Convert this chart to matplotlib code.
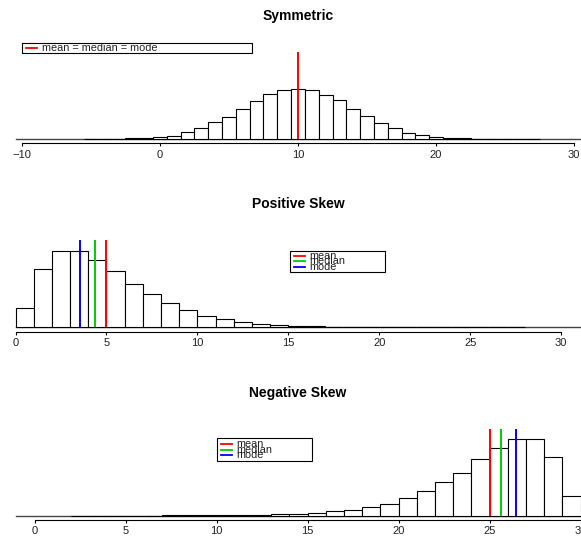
import matplotlib
matplotlib.use('Agg')
import matplotlib.pyplot as plt
from matplotlib.patches import Rectangle

plt.rcParams['font.family'] = ['Liberation Sans', 'DejaVu Sans']

# histogram densities, one value per unit-wide bin (left edges listed)
sym_left = [x - 0.5 for x in range(-5, 28)]
sym_density = [0.0002, 0.0004, 0.0007, 0.0013, 0.0026, 0.0046, 0.0066, 0.014,
               0.022, 0.033, 0.044, 0.060, 0.074, 0.089, 0.097, 0.099, 0.096,
               0.087, 0.077, 0.060, 0.046, 0.032, 0.022, 0.012, 0.0079, 0.0046,
               0.002, 0.0013, 0.0007, 0.0004, 0.0002, 0.0002, 0.0001]

pos_left = list(range(0, 28))
pos_density = [0.038, 0.114, 0.151, 0.151, 0.133, 0.111, 0.085, 0.065, 0.047,
               0.035, 0.023, 0.017, 0.011, 0.0073, 0.0053, 0.0033, 0.002,
               0.0014, 0.001, 0.0008, 0.0006, 0.0005, 0.0004, 0.0003, 0.0003,
               0.0002, 0.0002, 0.0001]

neg_left = list(range(2, 30))
neg_density = [0.0001, 0.0002, 0.0002, 0.0003, 0.0003, 0.0004, 0.0005, 0.0006,
               0.0008, 0.001, 0.0015, 0.0026, 0.004, 0.006, 0.0085, 0.012,
               0.018, 0.024, 0.035, 0.048, 0.066, 0.085, 0.112, 0.134, 0.151,
               0.151, 0.115, 0.038]

sym_stats = [10.0]
pos_stats = [5.0, 4.37, 3.53]      # mean, median, mode
neg_stats = [25.0, 25.63, 26.47]
stat_colors = ['#FF0000', '#00CD00', '#0000FF']
stat_labels = ['mean', 'median', 'mode']
line_top = 0.171

sym_ticks = [-10, 0, 10, 20, 30]
skew_ticks = [0, 5, 10, 15, 20, 25, 30]

W, H = 581, 536
AX_LEFT = 15.5
AX_W = 565
AX_H = 101.6
YMAX = 0.2

fig = plt.figure(figsize=(W / 100, H / 100), dpi=100)


def panel(baseline_px, xlim, title, left, dens, stats, colors, ticks):
    ax = fig.add_axes([AX_LEFT / W, (H - baseline_px) / H, AX_W / W, AX_H / H])
    ax.patch.set_visible(False)
    ax.axhline(0, color='#444444', lw=1.0, zorder=1, clip_on=False)
    bars = ax.bar(left, dens, width=1, align='edge', color='white',
                  edgecolor='black', linewidth=0.8, zorder=2)
    for b in bars:
        b.set_clip_on(False)
    for v, c in zip(stats, colors):
        ax.vlines(v, 0, line_top, color=c, lw=1.4, zorder=3)
    ax.set_xlim(xlim)
    ax.set_ylim(0, YMAX)
    for s in ['top', 'right', 'left']:
        ax.spines[s].set_visible(False)
    ax.spines['bottom'].set_position(('outward', 3.2))
    ax.spines['bottom'].set_bounds(ticks[0], ticks[-1])
    ax.spines['bottom'].set_linewidth(0.8)
    ax.set_xticks(ticks)
    ax.set_yticks([])
    ax.tick_params(axis='x', direction='out', length=2.4, width=0.8,
                   pad=2.0, labelsize=8, labelcolor='#222222')
    ax.text(0.5, 1 + 21.4 / AX_H, title, transform=ax.transAxes,
            ha='center', va='center', fontsize=10, fontweight='bold')
    return ax


def key(ax, x0, y0, w_px, h_px, labels, colors, rows_px):
    xlim = ax.get_xlim()
    kx = AX_W / (xlim[1] - xlim[0])
    ky = AX_H / YMAX
    ax.add_patch(Rectangle((x0, y0 - h_px / ky), w_px / kx, h_px / ky,
                           fill=False, ec='black', lw=0.8, clip_on=False, zorder=4))
    for lab, c, r in zip(labels, colors, rows_px):
        y = y0 - r / ky
        ax.plot([x0 + 4.5 / kx, x0 + 15.5 / kx], [y, y], color=c, lw=1.3,
                clip_on=False, zorder=5)
        ax.text(x0 + 20 / kx, y, lab, ha='left', va='center', fontsize=7.8,
                color='#222222', zorder=5)


ax1 = panel(139, (-10.47, 30.47), 'Symmetric', sym_left, sym_density,
            sym_stats, ['#FF0000'], sym_ticks)
key(ax1, -10, 0.1896, 230, 10.3, ['mean = median = mode'], ['#FF0000'], [5.3])

ax2 = panel(327.3, (0, 31.06), 'Positive Skew', pos_left, pos_density,
            pos_stats, stat_colors, skew_ticks)
key(ax2, 15.07, 0.151, 95, 21.8, stat_labels, stat_colors, [5, 10.7, 16.4])

ax3 = panel(515.7, (-1.06, 30.0), 'Negative Skew', neg_left, neg_density,
            neg_stats, stat_colors, skew_ticks)
key(ax3, 10.0, 0.152, 95, 22.5, stat_labels, stat_colors, [5.5, 11.2, 16.5])

fig.savefig('out.png', dpi=100)
